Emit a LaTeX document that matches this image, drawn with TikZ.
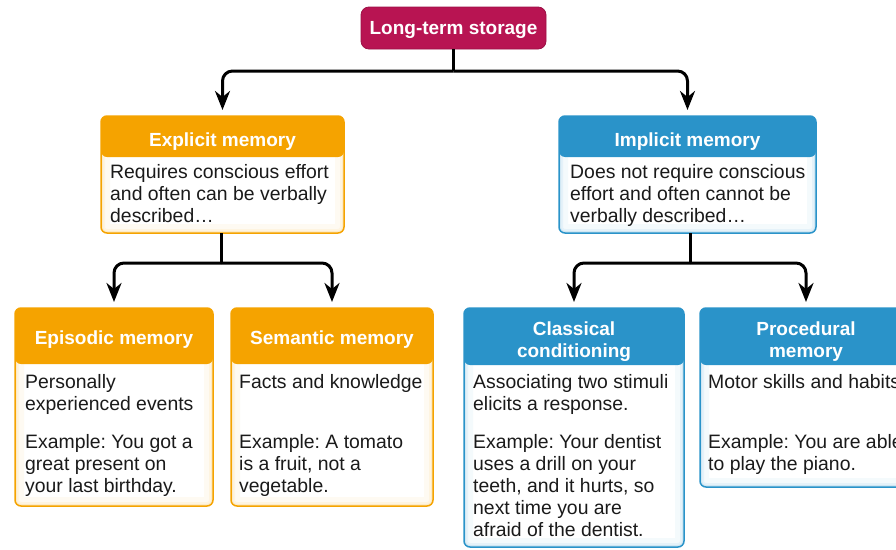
\documentclass[tikz,border=0pt]{standalone}
\usepackage{fontspec}
\setmainfont{Liberation Sans}
\usetikzlibrary{arrows.meta}
\definecolor{ltsC}{HTML}{B81452}
\definecolor{expC}{HTML}{F5A300}
\definecolor{impC}{HTML}{2A93C9}
\definecolor{txtC}{HTML}{1A1A1A}
\frenchspacing
\begin{document}
\begin{tikzpicture}[x=1pt,y=-1pt,
  cbox/.style 2 args={draw=#1, line width=1.5pt, rounded corners=6pt, fill=white, inner sep=0pt, outer sep=0pt,
    path picture={
      \draw[#1!5, line width=18pt, rounded corners=6pt] (path picture bounding box.south west) rectangle (path picture bounding box.north east);
      \draw[#1!12, line width=8pt, rounded corners=6pt] (path picture bounding box.south west) rectangle (path picture bounding box.north east);
      \draw[#1!22, line width=4pt, rounded corners=6pt] (path picture bounding box.south west) rectangle (path picture bounding box.north east);
      \fill[#1] (path picture bounding box.north west) rectangle ([yshift=-#2]path picture bounding box.north east);
    }},
  ltsbox/.style={fill=ltsC, draw=ltsC!85!black, line width=0.8pt, rounded corners=8pt, text=white,
    font=\bfseries\fontsize{19}{22}\selectfont, inner sep=0pt, text height=14pt, text depth=2pt},
  head/.style={text=white, font=\bfseries\fontsize{19}{22}\selectfont, inner sep=0pt, align=center, anchor=base},
  body/.style={text=txtC, font=\fontsize{19.4}{22}\selectfont, inner sep=0pt, align=left, anchor=base west},
  stem/.style={line width=3pt, draw=black},
  conn/.style={line width=3pt, draw=black, rounded corners=10pt, -{Stealth[length=19pt,width=15pt,inset=6pt]}, shorten >=6pt}
]
\useasboundingbox (0,0) rectangle (896,549);
\clip (0,0) rectangle (896,549);

% boxes
\node[ltsbox, minimum width=185pt, minimum height=42pt] (lts) at (453.5,28) {Long-term storage};
\node[cbox={expC}{41pt}, minimum width=243pt, minimum height=117pt] (explicit) at (222.5,174.5) {};
\node[cbox={impC}{41pt}, minimum width=257pt, minimum height=117pt] (implicit) at (687.5,174.5) {};
\node[cbox={expC}{56pt}, minimum width=198pt, minimum height=198pt] (episodic) at (114,407) {};
\node[cbox={expC}{56pt}, minimum width=202pt, minimum height=198pt] (semantic) at (332,407) {};
\node[cbox={impC}{57pt}, minimum width=220pt, minimum height=239pt] (classical) at (574,427.5) {};
\node[cbox={impC}{57pt}, minimum width=212pt, minimum height=179pt] (procedural) at (806,397.5) {};

% headers (anchor = baseline of last line)
\node[head] (explicitH) at (222.5,146) {Explicit memory};
\node[head] (implicitH) at (687.5,146) {Implicit memory};
\node[head] (episodicH) at (114,344) {Episodic memory};
\node[head] (semanticH) at (332,344) {Semantic memory};
\node[head] (classicalH) at (574,357) {Classical\\conditioning};
\node[head] (proceduralH) at (806,357) {Procedural\\memory};

% body texts (anchor = baseline of last line)
\node[body] (explicitT) at (110,222) {Requires conscious effort\\and often can be verbally\\described…};
\node[body] (implicitT) at (570,222) {Does not require conscious\\effort and often cannot be\\verbally described…};
\node[body] (episodicT) at (25,492) {Personally\\experienced events\\[16pt]Example: You got a\\great present on\\your last birthday.};
\node[body] (semanticT) at (239,492) {Facts and knowledge\\[38pt]Example: A tomato\\is a fruit, not a\\vegetable.};
\node[body] (classicalT) at (473,536) {Associating two stimuli\\elicits a response.\\[16pt]Example: Your dentist\\uses a drill on your\\teeth, and it hurts, so\\next time you are\\afraid of the dentist.};
\node[body] (proceduralT) at (708,470) {Motor skills and habits\\[38pt]Example: You are able\\to play the piano.};

% junctions
\coordinate (j0) at (453.5,71);
\coordinate (j1) at (221,263);
\coordinate (j2) at (690,263);

% connectors
\draw[stem] (lts.south) -- (j0);
\draw[conn] (j0) -| (explicit.north);
\draw[conn] (j0) -| (implicit.north);
\draw[stem] (explicit.south -| j1) -- (j1);
\draw[conn] (j1) -| (episodic.north);
\draw[conn] (j1) -| (semantic.north);
\draw[stem] (implicit.south -| j2) -- (j2);
\draw[conn] (j2) -| (classical.north);
\draw[conn] (j2) -| (procedural.north);
\end{tikzpicture}
\end{document}
